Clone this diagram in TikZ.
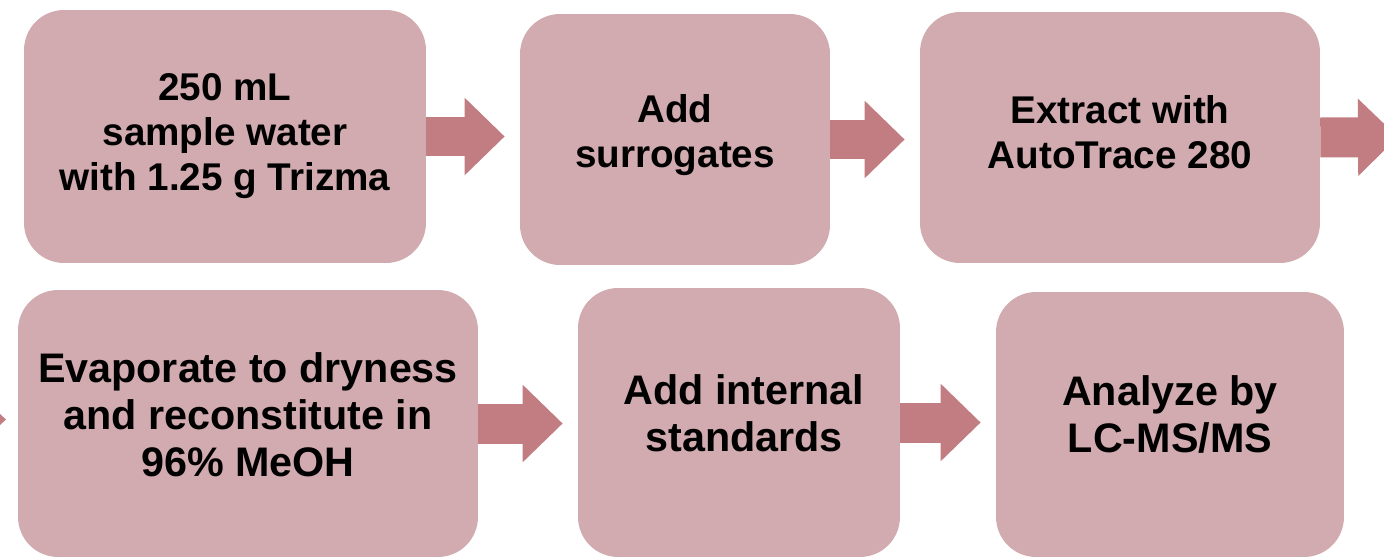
\documentclass[tikz,border=0pt]{standalone}
\usepackage{fontspec}
\setmainfont{Liberation Sans}
\usepackage{tikz}
\usetikzlibrary{arrows.meta}
\definecolor{stepfill}{HTML}{D1ABAF}
\definecolor{steparrow}{HTML}{C17D81}

\begin{document}
\begin{tikzpicture}[
    x=0.02cm, y=-0.02cm,
    box/.style={fill=stepfill, rounded corners=0.8cm, inner sep=0pt},
    steptext/.style={align=center, inner sep=0pt, font=\bfseries\fontsize{22}{25.6}\selectfont},
    lowtext/.style={steptext, font=\bfseries\fontsize{23.5}{26.8}\selectfont},
    arrow/.style={draw=steparrow, line width=0.8cm, -{Triangle[length=0.8cm, width=1.5cm]}, shorten >=0.3cm}
]
\useasboundingbox (0,0) rectangle (1384,558);
\clip (0,0) rectangle (1384,558);

\node[box, minimum width=8.04cm, minimum height=5.06cm,
      label={[steptext]center:{250 mL\\sample water\\with 1.25 g Trizma}}] (sample) at (225,136.5) {};
\node[box, minimum width=6.2cm, minimum height=5.02cm,
      label={[steptext, yshift=0.09cm]center:{Add\\surrogates}}] (surrogates) at (675,139.5) {};
\node[box, minimum width=8cm, minimum height=5.02cm,
      label={[steptext, yshift=0.1cm]center:{Extract with\\AutoTrace 280}}] (extract) at (1120,137.5) {};

\node[box, minimum width=9.2cm, minimum height=5.34cm,
      label={[lowtext, yshift=0.18cm]center:{Evaporate to dryness\\and reconstitute in\\96\% MeOH}}] (evaporate) at (248,423.5) {};
\node[box, minimum width=6.44cm, minimum height=5.38cm,
      label={[lowtext, yshift=0.18cm, xshift=0.1cm]center:{Add internal\\standards}}] (internal) at (739,422.5) {};
\node[box, minimum width=6.96cm, minimum height=5.3cm,
      label={[lowtext, yshift=0.2cm]center:{Analyze by\\LC-MS/MS}}] (analyze) at (1170,424.5) {};

\coordinate (offright) at (1398,137);

\draw[arrow] (sample.east) -- (sample.east -| surrogates.west);
\draw[arrow] (surrogates.east) -- (surrogates.east -| extract.west);
\draw[arrow, shorten >=0pt] (extract.east) -- (offright);
\draw[arrow] (evaporate.east) -- (evaporate.east -| internal.west);
\draw[arrow] (internal.east) -- (internal.east -| analyze.west);

% cut-off tip at the left edge
\fill[steparrow] (0,414) -- (6,419.5) -- (0,425) -- cycle;

\end{tikzpicture}
\end{document}
